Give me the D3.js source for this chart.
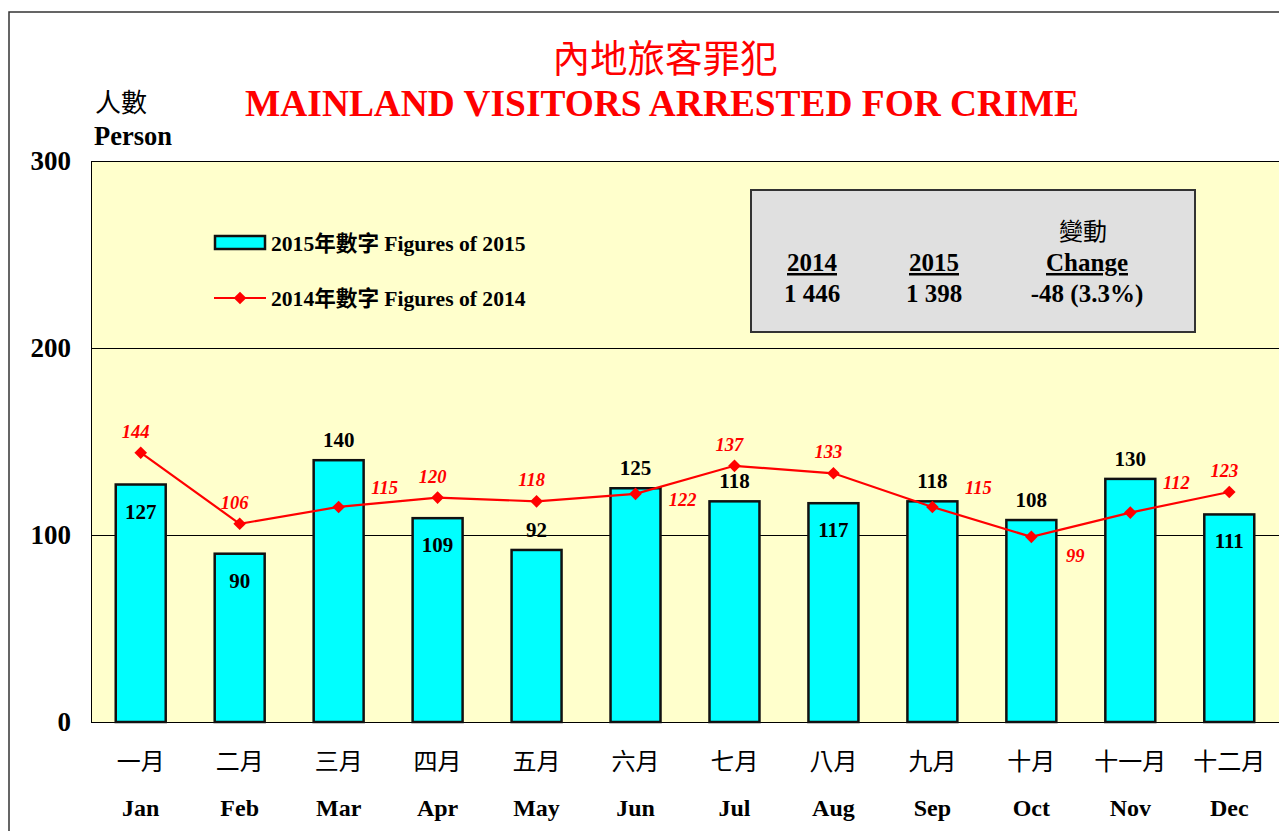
<!DOCTYPE html>
<html><head><meta charset="utf-8">
<script src="https://cdn.jsdelivr.net/npm/d3@7"></script>
<style>
body{margin:0;background:#fff;}
text{font-family:"Liberation Serif","Noto Sans CJK TC",serif;}
.cjk{font-family:"Noto Sans CJK TC",sans-serif;}
</style></head>
<body><svg id="c" width="1279" height="831"></svg>
<script>
const monthsZh = ["一月","二月","三月","四月","五月","六月","七月","八月","九月","十月","十一月","十二月"];
const monthsEn = ["Jan","Feb","Mar","Apr","May","Jun","Jul","Aug","Sep","Oct","Nov","Dec"];
const values2015 = [127,90,140,109,92,125,118,117,118,108,130,111];
const values2014 = [144,106,115,120,118,122,137,133,115,99,112,123];
const label2015Place = ["in","in","above","in","above","above","above","in","above","above","above","in"];
const label2014Place = ["above","above","right","above","above","rightbelow","above","above","right","rightbelow2","rightabove","above"];
const yTicks = [0,100,200,300];
const summaryHead = ["2014","2015","Change"];
const summaryVals = ["1 446","1 398","-48 (3.3%)"];

const svg = d3.select("#c");
const L=91, R=1279, T=161, B=722;

// outer frame
svg.append("path").attr("d","M9,831 L9,12 L1279,12").attr("fill","none").attr("stroke","#333").attr("stroke-width",1.5);

const x = d3.scaleBand().domain(monthsEn).range([L,R]).paddingInner(0.495).paddingOuter(0.25);
const y = d3.scaleLinear().domain([0,300]).range([B,T]);

svg.append("rect").attr("x",L).attr("y",T).attr("width",R-L+5).attr("height",B-T).attr("fill","#ffffcc").attr("stroke","#000").attr("stroke-width",1).attr("shape-rendering","crispEdges");

// gridlines
svg.append("g").selectAll("line").data([100,200]).join("line")
  .attr("x1",L).attr("x2",R).attr("y1",d=>y(d)).attr("y2",d=>y(d)).attr("stroke","#000").attr("stroke-width",1).attr("shape-rendering","crispEdges");

// y axis labels
const yAxis = d3.axisLeft(y).tickValues(yTicks).tickSize(0).tickPadding(19);
const ga = svg.append("g").attr("transform",`translate(${L-1},0)`).call(yAxis);
ga.select(".domain").remove();
ga.selectAll("text").attr("font-size",27).attr("font-weight","bold").attr("fill","#000")
  .style("font-family","Liberation Serif").attr("dy","0.3em");

// bars
svg.append("g").selectAll("rect").data(values2015).join("rect")
  .attr("x",(d,i)=>x(monthsEn[i])).attr("width",x.bandwidth())
  .attr("y",d=>y(d)).attr("height",d=>B-y(d))
  .attr("fill","#00ffff").attr("stroke","#111").attr("stroke-width",2.5);

// bar labels
svg.append("g").selectAll("text").data(values2015).join("text")
  .attr("x",(d,i)=>x(monthsEn[i])+x.bandwidth()/2)
  .attr("y",(d,i)=>label2015Place[i]==="in"? y(d)+34 : y(d)-13)
  .attr("text-anchor","middle").attr("font-size",21).attr("font-weight","bold").attr("fill","#000")
  .text(d=>d);

// line
const cx = i => x(monthsEn[i])+x.bandwidth()/2;
const line = d3.line().x((d,i)=>cx(i)).y(d=>y(d));
svg.append("path").datum(values2014).attr("d",line).attr("fill","none").attr("stroke","#ff0000").attr("stroke-width",2.2);
svg.append("g").selectAll("path").data(values2014).join("path")
  .attr("transform",(d,i)=>`translate(${cx(i)},${y(d)}) rotate(45)`)
  .attr("d",d3.symbol().type(d3.symbolSquare).size(80)).attr("fill","#ff0000");

const off = {above:[-5,-15], right:[46,-13], rightbelow:[47,12], rightbelow2:[44,25], rightabove:[46,-24]};
svg.append("g").selectAll("text").data(values2014).join("text")
  .attr("x",(d,i)=>cx(i)+off[label2014Place[i]][0])
  .attr("y",(d,i)=>y(d)+off[label2014Place[i]][1])
  .attr("text-anchor","middle").attr("font-size",18.5).attr("font-weight","bold").attr("font-style","italic")
  .attr("fill","#ff0000").text(d=>d);

// x labels
const gx = svg.append("g");
gx.selectAll("text.zh").data(monthsZh).join("text").attr("class","zh cjk")
  .attr("x",(d,i)=>cx(i)).attr("y",770).attr("text-anchor","middle").attr("font-size",24).attr("fill","#000").text(d=>d);
gx.selectAll("text.en").data(monthsEn).join("text").attr("class","en")
  .attr("x",(d,i)=>cx(i)).attr("y",816).attr("text-anchor","middle").attr("font-size",24).attr("font-weight","bold").attr("fill","#000").text(d=>d);

// titles
svg.append("text").attr("class","cjk").attr("x",665).attr("y",72).attr("text-anchor","middle").attr("font-size",37.5).attr("fill","#ff0000").text("內地旅客罪犯");
svg.append("text").attr("x",662).attr("y",116).attr("text-anchor","middle").attr("font-size",37.4).attr("font-weight","bold").attr("fill","#ff0000").text("MAINLAND VISITORS ARRESTED FOR CRIME");
svg.append("text").attr("class","cjk").attr("x",95).attr("y",112).attr("font-size",26).attr("fill","#000").text("人數");
svg.append("text").attr("x",94).attr("y",145).attr("font-size",26.5).attr("font-weight","bold").attr("fill","#000").text("Person");

// legend
svg.append("rect").attr("x",215).attr("y",236).attr("width",50).attr("height",13).attr("fill","#00ffff").attr("stroke","#111").attr("stroke-width",2.5);
svg.append("text").attr("x",271).attr("y",251).attr("font-size",21.6).attr("font-weight","bold").attr("fill","#000").text("2015年數字 Figures of 2015");
svg.append("line").attr("x1",214).attr("x2",266).attr("y1",298).attr("y2",298).attr("stroke","#ff0000").attr("stroke-width",2.2);
svg.append("path").attr("transform","translate(240,298) rotate(45)").attr("d",d3.symbol().type(d3.symbolSquare).size(80)).attr("fill","#ff0000");
svg.append("text").attr("x",271).attr("y",306).attr("font-size",21.6).attr("font-weight","bold").attr("fill","#000").text("2014年數字 Figures of 2014");

// summary box
svg.append("rect").attr("x",751).attr("y",190).attr("width",444).attr("height",142).attr("fill","#e0e0e0").attr("stroke","#333").attr("stroke-width",2);
const colX = [812,934,1087];
svg.append("text").attr("class","cjk").attr("x",1083).attr("y",240).attr("text-anchor","middle").attr("font-size",24).attr("fill","#000").text("變動");
svg.selectAll("text.sh").data(summaryHead).join("text").attr("class","sh")
  .attr("x",(d,i)=>colX[i]).attr("y",271).attr("text-anchor","middle").attr("font-size",25).attr("font-weight","bold")
  .attr("text-decoration","underline").attr("fill","#000").text(d=>d);
svg.selectAll("text.sv").data(summaryVals).join("text").attr("class","sv")
  .attr("x",(d,i)=>colX[i]).attr("y",302).attr("text-anchor","middle").attr("font-size",25).attr("font-weight","bold")
  .attr("fill","#000").text(d=>d);
</script></body></html>
